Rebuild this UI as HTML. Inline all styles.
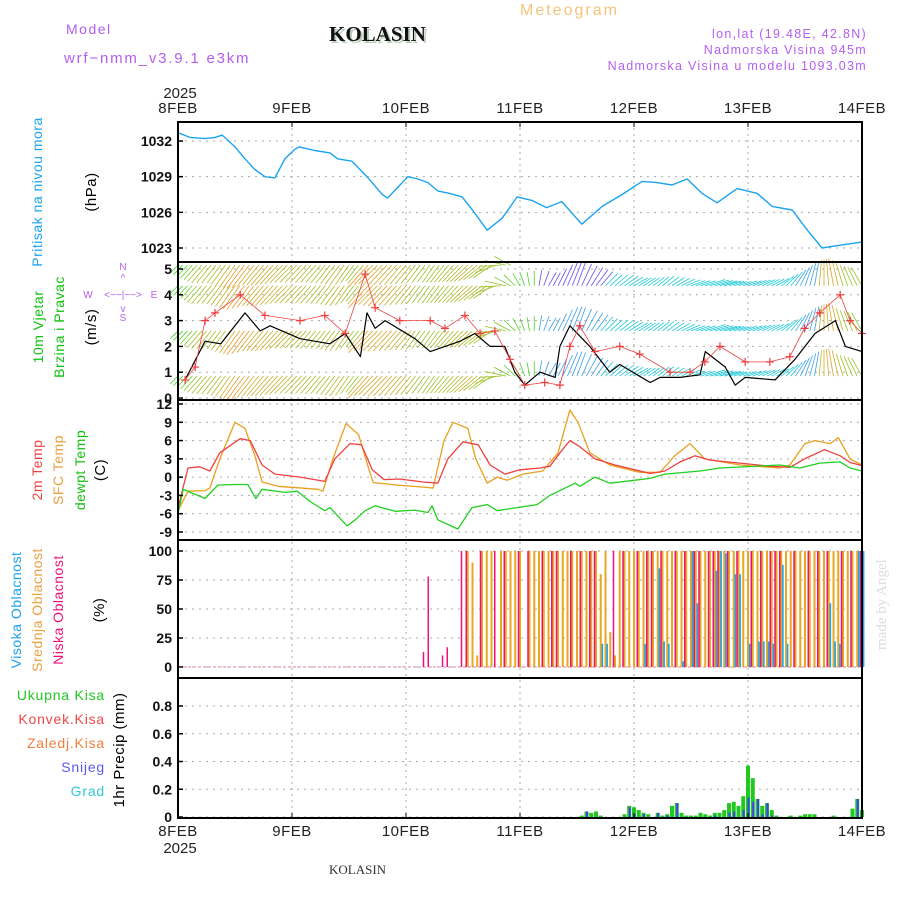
<!DOCTYPE html>
<html><head><meta charset="utf-8"><style>
html,body{margin:0;padding:0;background:#fff;}
svg{display:block;font-family:"Liberation Sans",sans-serif;}
</style></head><body>
<svg id="chart" width="900" height="900" viewBox="0 0 900 900" xmlns="http://www.w3.org/2000/svg">
<rect width="900" height="900" fill="#fff"/>
<g>
<text x="66" y="34" fill="#b45ef0" font-size="14" letter-spacing="1.5">Model</text>
<text x="64" y="63" fill="#b45ef0" font-size="15" letter-spacing="1.8">wrf−nmm_v3.9.1 e3km</text>
<text x="331" y="43" fill="#b8ccb8" font-family="Liberation Serif,serif" font-weight="bold" font-size="21">KOLASIN</text>
<text x="329" y="41" fill="#111" font-family="Liberation Serif,serif" font-weight="bold" font-size="21">KOLASIN</text>
<text x="520" y="15" fill="#f3c47e" font-size="16" letter-spacing="2">Meteogram</text>
<text x="867" y="38" text-anchor="end" fill="#b45ef0" font-size="12.5" letter-spacing="1.3">lon,lat (19.48E, 42.8N)</text>
<text x="867" y="54" text-anchor="end" fill="#b45ef0" font-size="12.5" letter-spacing="1.3">Nadmorska Visina 945m</text>
<text x="867" y="70" text-anchor="end" fill="#b45ef0" font-size="12.5" letter-spacing="1.3">Nadmorska Visina u modelu 1093.03m</text>
</g>
<g id="grid"></g>
<g id="marks"></g>
<g id="frames"></g>
<g id="labels"></g>
<text x="329" y="874" font-family="Liberation Serif,serif" font-size="13" fill="#333">KOLASIN</text>
<text transform="translate(886,650) rotate(-90)" font-family="Liberation Serif,serif" font-size="15" fill="#d8e0d8">made by Angel</text>
</svg>
<script>
// ---------- data ----------
const days = ["8FEB","9FEB","10FEB","11FEB","12FEB","13FEB","14FEB"];
const presHours = [0,2.5,5.7,7.8,9.3,12,14.1,16.2,18.3,20.4,22.5,24.6,25.5,28.8,32,33.6,36.6,39.8,43,44.1,48.4,50.5,52.6,54.7,57.1,59.8,62,65.1,68.2,71.4,74.5,77.6,80.8,85,89.3,93.5,97.7,100.8,104,107.2,110.3,113.5,117.7,121.9,125.1,129.3,132.5,135.6,138.8,144];
const presVals = [1032.7,1032.3,1032.2,1032.3,1032.5,1031.5,1030.5,1029.6,1029,1028.9,1030.5,1031.3,1031.5,1031.2,1031,1030.5,1030.3,1029,1027.5,1027.2,1029,1028.8,1028.5,1027.8,1027.6,1027.3,1026.2,1024.5,1025.5,1027.3,1027,1026.4,1026.9,1025,1026.5,1027.5,1028.6,1028.5,1028.3,1028.8,1027.6,1026.8,1028,1027.6,1026.5,1026.2,1024.5,1023,1023.2,1023.5,1023];
const spdHours = [1.5,5.7,9,14.1,17.3,19.4,25.7,32,35.2,38.4,39.8,41.5,43.6,49.9,53.1,56.2,59.4,62.5,65.7,68.8,70.9,73,76.2,79.4,80.4,82.5,86.7,90.9,93,99.4,101.5,105.7,109.9,111,115.2,117.3,119.4,125.7,129.9,134.1,138.4,140.5,144];
const spdVals = [0.7,2.2,2.1,3.3,2.6,2.8,2.3,2.1,2.5,1.6,3.3,2.7,3.0,2.3,1.8,2.0,2.2,2.5,2.0,2.0,1.0,0.5,1.0,0.8,2.0,2.8,2.0,1.0,1.3,0.6,0.8,0.8,0.9,1.8,1.2,0.5,0.8,0.7,1.5,2.5,3.0,2.0,1.8];
const gustHours = [1.5,3.6,5.7,7.8,13.1,18.3,25.7,30.9,35.2,39.4,41.5,46.7,53.1,56.2,60.4,63.6,66.7,69.9,73,77.2,80.4,82.5,84.6,87.8,93,97.2,103.6,107.8,110.9,114.1,119.4,124.6,128.8,131.9,135.1,139.4,141.5,144];
const gustVals = [0.7,1.2,3.0,3.3,4.0,3.2,3.0,3.2,2.5,4.8,3.5,3.0,3.0,2.7,3.2,2.5,2.6,1.5,0.5,0.6,0.5,2.0,2.8,1.8,2.0,1.7,1.0,1.0,1.4,2.0,1.4,1.4,1.6,2.7,3.3,4.0,3.0,2.5];
const windDirHours = [0,6,12,18,24,30,36,42,48,54,60,66,72,78,84,90,96,102,108,114,120,126,132,138,144];
const windDirDeg = [225,230,235,230,225,230,235,225,230,235,225,215,120,60,70,45,30,40,20,15,20,30,70,100,120];
const t2Hours = [0,2.1,4.6,6.7,8.8,13.1,15.2,17.7,20.4,25.7,30.9,33,36.2,38.6,40.9,43.4,46.7,51.6,54.7,56.8,60,63.2,65.7,68.8,72,76.2,78.3,80.4,82.5,84.6,87.8,92,96.2,99.4,102.5,105.7,108.8,112,118.3,124.6,128.8,131.9,136.1,139.4,141.5,144];
const t2Vals = [-5,1.5,1.7,1,4,6.3,6,2,0.5,0,-0.7,3,5.5,5.3,1.2,-0.4,-0.3,-0.8,-1,3,5.8,5.3,2,0.5,1.2,1.5,1.8,4,6,5,3,2,1.2,0.6,1.0,2.5,3.5,2.8,2.3,1.8,1.6,3,4.5,3.5,2.4,1.9];
const sfcHours = [0,2.1,5.7,6.7,8.8,12,14.1,16.2,17.7,21,29.5,30.5,32.6,35.4,38,40.1,41.1,46.3,52.6,53.7,56,57.9,61,62.7,65.1,67.2,69.3,72.6,76.8,80,82.5,84.2,86.7,90.9,97.2,101.5,104.6,107.8,110.9,118.3,126.7,128.8,132,134.1,137.3,139,141.5,144];
const sfcVals = [-5.5,-2.3,-2.2,-1.8,3,9,8,3.5,-0.8,-1.5,-2,-2.3,3,8.8,7,1.5,-0.9,-1.3,-1.7,-1.8,6,9,8,3,-1,0,-0.5,0.5,1.0,4,11,9,4,2,0.8,0.8,3.5,5.5,3,2,1.5,2,5.5,6,5.5,6.5,3,2];
const dewHours = [0,1.1,5.7,8.4,12,14.7,16.4,17.7,22.5,25.1,27.8,30.9,32,35.6,37.3,39.4,41.5,45.7,49.9,52.6,53.5,54.7,58.9,61.9,65.1,67.2,71.4,75.6,78.3,83.6,84.6,87.8,90.9,99.4,102.5,109.9,114.1,126.7,130.9,135.1,139.4,141.5,144];
const dewVals = [-6,-2,-3.5,-1.3,-1.2,-1.2,-3.5,-2,-2.5,-2.3,-4,-5.5,-5,-8,-7,-5.5,-4.7,-5.6,-5.4,-5.8,-4.7,-7,-8.5,-5,-4.5,-5.5,-5,-4.5,-3,-1,-1.5,0,-1,-0.2,0.5,1.0,1.5,2,1.5,2.3,2.5,1.5,1];
const cloudLow = [0,0,0,0,0,0,0,0,0,0,0,0,0,0,0,0,0,0,0,0,0,0,0,0,0,0,0,0,0,0,0,0,0,0,0,0,0,0,0,0,0,0,0,0,0,0,0,0,0,0,0,0,13,78,0,0,10,17,0,0,100,100,0,0,100,0,0,100,0,100,0,0,100,0,100,0,0,100,0,100,100,0,0,100,0,100,0,100,100,0,0,0,100,0,100,0,0,100,0,100,100,0,100,0,0,100,0,100,0,100,100,0,100,100,100,0,100,0,100,0,0,100,0,100,0,100,100,100,0,0,100,0,0,100,0,100,0,100,0,0,100,0,100,0,100];
const cloudMid = [0,0,0,0,0,0,0,0,0,0,0,0,0,0,0,0,0,0,0,0,0,0,0,0,0,0,0,0,0,0,0,0,0,0,0,0,0,0,0,0,0,0,0,0,0,0,0,0,0,0,0,0,0,0,0,0,0,0,0,0,0,100,90,10,100,100,100,0,100,100,100,100,100,0,100,100,100,100,100,100,100,100,100,100,100,100,100,100,100,80,100,30,10,100,100,100,100,100,100,100,100,100,100,100,100,100,100,100,100,100,100,100,100,100,100,100,100,100,100,100,100,100,100,100,100,100,100,100,100,100,100,100,100,100,100,100,100,100,100,100,100,100,100,100,100];
const cloudHigh = [0,0,0,0,0,0,0,0,0,0,0,0,0,0,0,0,0,0,0,0,0,0,0,0,0,0,0,0,0,0,0,0,0,0,0,0,0,0,0,0,0,0,0,0,0,0,0,0,0,0,0,0,0,0,0,0,0,0,0,0,0,0,0,0,0,0,0,0,0,0,0,0,0,0,0,0,0,0,0,0,0,0,0,0,0,0,0,0,0,20,20,0,0,0,0,0,0,0,20,0,0,85,22,20,0,0,5,0,100,55,0,0,0,83,100,98,0,80,80,0,20,0,22,22,22,20,0,88,20,0,0,0,0,0,0,0,0,55,22,20,0,0,0,100,100,100,100,0,100,0,0,0,25,62,60,0];
const precipHours = [85,86,87,88,89,94,95,96,97,98,99,101,102,103,104,105,106,107,108,109,110,111,112,113,114,115,116,117,118,119,120,121,122,123,124,125,126,129,131,132,133,134,138,142,143,144];
const precipTotal = [0.01,0.04,0.03,0.04,0.01,0.02,0.08,0.07,0.05,0.03,0.02,0.03,0.01,0.02,0.08,0.1,0.03,0.01,0.01,0.01,0.03,0.02,0.01,0.03,0.03,0.05,0.1,0.11,0.08,0.15,0.37,0.28,0.13,0.08,0.1,0.05,0.01,0.01,0.01,0.02,0.02,0.02,0.01,0.06,0.13,0.05];
const precipSnow = [0,0.04,0,0,0,0,0.07,0.02,0,0.02,0,0.03,0,0.01,0,0.1,0,0,0,0,0,0,0,0.01,0,0,0.03,0.04,0,0.05,0.14,0.11,0.13,0.02,0.1,0.01,0,0,0,0,0,0,0,0,0.13,0];
const presTicks = [1023,1026,1029,1032];
const windTicks = [0,1,2,3,4,5];
const tempTicks = [-9,-6,-3,0,3,6,9,12];
const cloudTicks = [0,25,50,75,100];
const precipTicks = [0,0.2,0.4,0.6,0.8];

// ---------- scales ----------
const X0=178, X1=862, HOURS=144;
const xh = h => X0 + h*(X1-X0)/HOURS;
const lin = (d0,d1,r0,r1) => v => r0 + (v-d0)*(r1-r0)/(d1-d0);
const yP = lin(1023,1032,248,141);
const yW = lin(0,5,398,269);
const yT = lin(-9,12,532,404);
const yC = lin(0,100,667,551);
const yR = lin(0,0.8,817,706);
const panels = [[122,262],[262,400],[400,540],[540,678],[678,818]];
const NS="http://www.w3.org/2000/svg";
const grid=document.getElementById('grid'), marks=document.getElementById('marks'), frames=document.getElementById('frames'), labels=document.getElementById('labels');
function el(tag,attrs,parent,txt){const e=document.createElementNS(NS,tag);for(const k in attrs)e.setAttribute(k,attrs[k]);if(txt!==undefined)e.textContent=txt;parent.appendChild(e);return e;}

days.forEach((d,i)=>{
  const x=xh(i*24);
  if(i>0&&i<6){const g=el('line',{x1:x,x2:x,y1:122,y2:818,stroke:'#aaa','stroke-dasharray':'2,4'},grid);
  
  }
  const t=el('text',{x:x,y:113,'text-anchor':'middle','font-size':15,fill:'#222','letter-spacing':'0.5'},labels,d);
  
  
  const b=el('text',{x:x,y:836,'text-anchor':'middle','font-size':15,fill:'#222','letter-spacing':'0.5'},labels,d);
  
  
  [[122,127],[813,818]].forEach(([a,c])=>{const tk=el('line',{x1:x,x2:x,y1:a,y2:c,stroke:'#000'},frames);
  
  });
});
const y1=el('text',{x:180,y:98,'text-anchor':'middle','font-size':15,fill:'#222'},labels,'2025');


const y2=el('text',{x:180,y:853,'text-anchor':'middle','font-size':15,fill:'#222'},labels,'2025');



function ticks(vals,scale,fmt,name){
  vals.forEach(v=>{
    const y=scale(v);
    const g=el('line',{x1:X0,x2:X1,y1:y,y2:y,stroke:'#aaa','stroke-dasharray':'2,5'},grid);
    
    
    const tk=el('line',{x1:X0,x2:X0+5,y1:y,y2:y,stroke:'#000','stroke-width':1.5},frames);
    
    
    const t=el('text',{x:X0-6,y:y+5,'text-anchor':'end','font-size':14,fill:'#111','font-weight':'bold'},labels,fmt(v));
    
    
  });
}
ticks(presTicks,yP,v=>v,'pressure');
ticks(windTicks,yW,v=>v,'wind');
ticks(tempTicks,yT,v=>v,'temp');
ticks(cloudTicks,yC,v=>v,'cloud');
ticks(precipTicks,yR,v=>v,'precip');

function line(hs,vs,scale,color,name,w){
  const d=hs.map((h,i)=>(i?'L':'M')+xh(h).toFixed(1)+','+scale(vs[i]).toFixed(1)).join('');
  const p=el('path',{d:d,fill:'none',stroke:color,'stroke-width':w||1.3,'stroke-linejoin':'round'},marks);
  
  
}
function interp(hs,vs,h){for(let i=1;i<hs.length;i++){if(h<=hs[i]){const f=(h-hs[i-1])/(hs[i]-hs[i-1]);return vs[i-1]+f*(vs[i]-vs[i-1]);}}return vs[vs.length-1];}

line(presHours,presVals,yP,'#1aa4f0','pressure-line',1.4);

// wind arrows
function spdColor(s){const t=Math.max(0,Math.min(1,(s-0.5)/3));const r=Math.round(60+195*t), g=Math.round(210-70*t*t);return 'rgb('+r+','+g+',40)';}
const rows=[0.85,2.6,4.35,5.15];
for(let h=0;h<=144;h++){
  const dir=interp(windDirHours,windDirDeg,h)*Math.PI/180;
  const sp=interp(spdHours,spdVals,h);
  rows.forEach((rv,ri)=>{
    if(ri===3&&h>70)return;
    const len=10+sp*6;
    const x=xh(h), y=yW(rv);
    const x2=x+Math.cos(dir)*len, y2=y-Math.sin(dir)*len;
    let col=spdColor(sp);
    if(h>70&&dir<Math.PI*0.45) col=(dir<0.9?'#1ec8d8':'#3aa0e8');
    if(h>75&&h<90&&ri===2) col='#6a4ef0';
    const a=el('line',{x1:x,y1:y,x2:x2,y2:y2,stroke:col,'stroke-width':0.8},marks);
    
    
  });
}
line(spdHours,spdVals,yW,'#000','wind-speed-line',1.2);
line(gustHours,gustVals,yW,'#f04040','wind-gust-line',0.8);
gustHours.forEach((h,i)=>{
  const x=xh(h), y=yW(gustVals[i]);
  const c=el('path',{d:`M${x-4},${y}H${x+4}M${x},${y-4}V${y+4}`,stroke:'#f03c3c','stroke-width':1.2},marks);
  
  
});

line(sfcHours,sfcVals,yT,'#e8a020','sfc-temp-line');
line(t2Hours,t2Vals,yT,'#f04040','2m-temp-line');
line(dewHours,dewVals,yT,'#20d020','dewpt-temp-line');

const zl=el('line',{x1:X0,x2:X1,y1:yC(0),y2:yC(0),stroke:'#e080a0','stroke-dasharray':'3,2'},marks);


for(let h=0;h<=144;h++){
  [[cloudMid,'#e8a820',0,2],[cloudLow,'#f0107a',-1.5,1.5],[cloudHigh,'#1aa4f0',1.6,1.6]].forEach(([arr,col,off,w],k)=>{
    const v=arr[h]; if(!v)return;
    const x=xh(h)+off;
    const b=el('rect',{x:x-w/2,y:yC(v),width:w,height:yC(0)-yC(v),fill:col},marks);
    
    
  });
}

precipHours.forEach((h,i)=>{
  const x=xh(h);
  const b=el('rect',{x:x-2,y:yR(precipTotal[i]),width:4,height:yR(0)-yR(precipTotal[i]),fill:'#20c820'},marks);
  
  
  if(precipSnow[i]>0){
    const s=el('rect',{x:x-0.5,y:yR(precipSnow[i]),width:2,height:yR(0)-yR(precipSnow[i]),fill:'#3c40f0'},marks);
    
    
  }
});

panels.forEach((p,i)=>{
  const r=el('rect',{x:X0,y:p[0],width:X1-X0,height:p[1]-p[0],fill:'none',stroke:'#000','stroke-width':2},frames);
  
  
});

function vlabel(txt,x,y,col,name,size){
  const t=el('text',{transform:`translate(${x},${y}) rotate(-90)`,'text-anchor':'middle',fill:col,'font-size':size||14,'letter-spacing':'0.5'},labels,txt);
  
  
}
vlabel('Pritisak na nivou mora',42,192,'#1aa4f0','pressure-title');
vlabel('(hPa)',96,192,'#000','pressure-unit',15);
vlabel('10m Vjetar',43,327,'#10c010','wind-title-1');
vlabel('Brzina i Pravac',64,327,'#10c010','wind-title-2');
vlabel('(m/s)',96,327,'#000','wind-unit',15);
vlabel('2m Temp',42,470,'#f04040','temp-2m-title');
vlabel('SFC Temp',63,470,'#e8a040','temp-sfc-title');
vlabel('dewpt Temp',85,470,'#10c010','temp-dewpt-title');
vlabel('(C)',105,470,'#000','temp-unit',15);
vlabel('Visoka Oblacnost',21,610,'#1aa4f0','cloud-high-title');
vlabel('Srednja Oblacnost',42,610,'#e8a040','cloud-mid-title');
vlabel('Niska Oblacnost',63,610,'#f0107a','cloud-low-title');
vlabel('(%)',104,610,'#000','cloud-unit',15);
vlabel('1hr Precip (mm)',124,750,'#000','precip-unit',15);
[['Ukupna Kisa','#20c820',700],['Konvek.Kisa','#f04848',724],['Zaledj.Kisa','#f08040',748],['Snijeg','#5a5af0',772],['Grad','#30c8d8',796]].forEach(([t,c,y])=>{
  const e=el('text',{x:105,y:y,'text-anchor':'end',fill:c,'font-size':14,'letter-spacing':'0.8'},labels,t);
  
  
});
[['N',123,270],['^',123,281],['W',88,298],['<−−|−−>',123,298],['E',154,298],['v',123,312],['S',123,321]].forEach(([t,x,y])=>{
  const e=el('text',{x:x,y:y,'text-anchor':'middle',fill:'#b45ef0','font-size':10},labels,t);
  
  
});
</script>
</body></html>
